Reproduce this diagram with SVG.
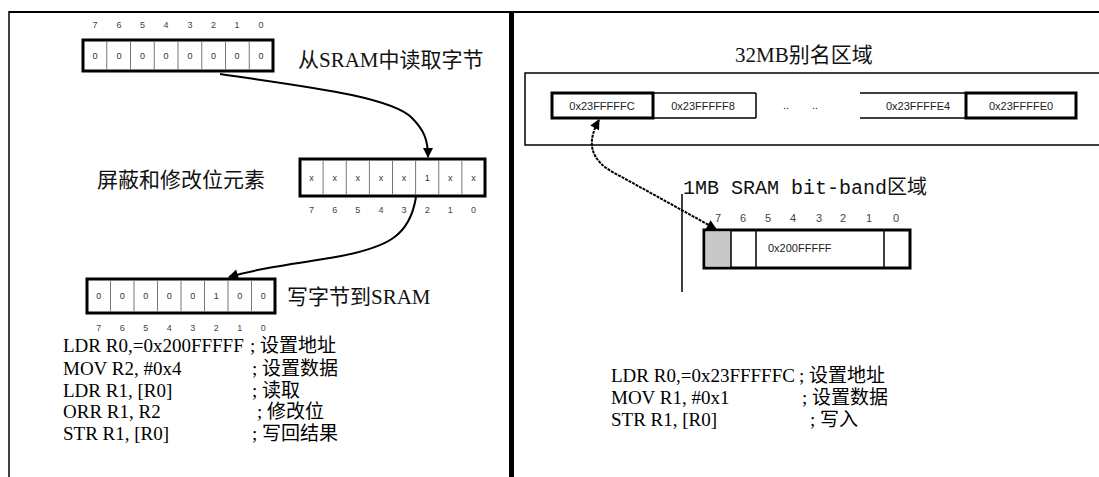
<svg xmlns="http://www.w3.org/2000/svg" width="1099" height="477" viewBox="0 0 1099 477">
<style>
.frame{stroke:#000;fill:none}
.box{fill:#fff;stroke:#000;stroke-width:3}
.div{stroke:#777;stroke-width:1}
.thin{stroke:#000;stroke-width:1.5;fill:none}
.bit{font-family:"Liberation Sans",Arial,sans-serif;font-size:9px;fill:#444;text-anchor:middle}
.val{font-family:"Liberation Sans",Arial,sans-serif;font-size:9px;fill:#333;text-anchor:middle}
.addr{font-family:"Liberation Sans",Arial,sans-serif;font-size:11px;fill:#222;text-anchor:middle}
.lbl{font-family:"Liberation Serif","Noto Sans CJK SC",serif;font-size:21px;fill:#111}
.mono{font-family:"Liberation Mono","Noto Sans CJK SC",monospace;font-size:20px;fill:#111}
.code{font-family:"Liberation Serif","Noto Sans CJK SC",serif;font-size:19px;fill:#000}
.conn{stroke:#000;stroke-width:2;fill:none}
</style>
<defs>
<marker id="ah" viewBox="0 0 10 10" refX="9" refY="5" markerWidth="12" markerHeight="10" markerUnits="userSpaceOnUse" orient="auto-start-reverse">
<path d="M0,0 L10,5 L0,10 z" fill="#000"/>
</marker>
</defs>
<rect width="1099" height="477" fill="#fff"/>
<g id="frame">
<line x1="9" y1="12" x2="1099" y2="12" class="frame" stroke-width="2"/>
<line x1="9" y1="11" x2="9" y2="477" class="frame" stroke-width="1.5"/>
<line x1="511.5" y1="11" x2="511.5" y2="477" class="frame" stroke-width="5"/>
</g>
<g id="read-byte">
<rect x="83" y="40" width="190" height="31" class="box"/>
<g class="div"><line x1="106.75" y1="41" x2="106.75" y2="70"/><line x1="130.5" y1="41" x2="130.5" y2="70"/><line x1="154.25" y1="41" x2="154.25" y2="70"/><line x1="178" y1="41" x2="178" y2="70"/><line x1="201.75" y1="41" x2="201.75" y2="70"/><line x1="225.5" y1="41" x2="225.5" y2="70"/><line x1="249.25" y1="41" x2="249.25" y2="70"/></g>
<g class="bit"><text x="95" y="28">7</text><text x="119" y="28">6</text><text x="142.5" y="28">5</text><text x="166" y="28">4</text><text x="190" y="28">3</text><text x="213.5" y="28">2</text><text x="237" y="28">1</text><text x="261" y="28">0</text></g>
<g class="val"><text x="95" y="59">0</text><text x="119" y="59">0</text><text x="142.5" y="59">0</text><text x="166" y="59">0</text><text x="190" y="59">0</text><text x="213.5" y="59">0</text><text x="237" y="59">0</text><text x="261" y="59">0</text></g>
<text x="298" y="67" class="lbl">从SRAM中读取字节</text>
</g>
<g id="mask-modify">
<rect x="300" y="159" width="185" height="37" class="box"/>
<g class="div"><line x1="323.1" y1="160" x2="323.1" y2="195"/><line x1="346.25" y1="160" x2="346.25" y2="195"/><line x1="369.4" y1="160" x2="369.4" y2="195"/><line x1="392.5" y1="160" x2="392.5" y2="195"/><line x1="415.6" y1="160" x2="415.6" y2="195"/><line x1="438.75" y1="160" x2="438.75" y2="195"/><line x1="461.9" y1="160" x2="461.9" y2="195"/></g>
<g class="val"><text x="311.6" y="181">x</text><text x="334.7" y="181">x</text><text x="357.8" y="181">x</text><text x="381" y="181">x</text><text x="404" y="181">x</text><text x="427.2" y="181">1</text><text x="450.3" y="181">x</text><text x="473.4" y="181">x</text></g>
<g class="bit"><text x="311.6" y="213">7</text><text x="334.7" y="213">6</text><text x="357.8" y="213">5</text><text x="381" y="213">4</text><text x="404" y="213">3</text><text x="427.2" y="213">2</text><text x="450.3" y="213">1</text><text x="473.4" y="213">0</text></g>
<text x="97" y="187" class="lbl">屏蔽和修改位元素</text>
</g>
<g id="write-byte">
<rect x="87" y="279" width="188" height="34" class="box"/>
<g class="div"><line x1="110.5" y1="280" x2="110.5" y2="312"/><line x1="134" y1="280" x2="134" y2="312"/><line x1="157.5" y1="280" x2="157.5" y2="312"/><line x1="181" y1="280" x2="181" y2="312"/><line x1="204.5" y1="280" x2="204.5" y2="312"/><line x1="228" y1="280" x2="228" y2="312"/><line x1="251.5" y1="280" x2="251.5" y2="312"/></g>
<g class="val"><text x="98.75" y="299">0</text><text x="122.25" y="299">0</text><text x="145.75" y="299">0</text><text x="169.25" y="299">0</text><text x="192.75" y="299">0</text><text x="216.25" y="299">1</text><text x="239.75" y="299">0</text><text x="263.25" y="299">0</text></g>
<g class="bit"><text x="98.75" y="331">7</text><text x="122.25" y="331">6</text><text x="145.75" y="331">5</text><text x="169.25" y="331">4</text><text x="192.75" y="331">3</text><text x="216.25" y="331">2</text><text x="239.75" y="331">1</text><text x="263.25" y="331">0</text></g>
<text x="287" y="304" class="lbl">写字节到SRAM</text>
</g>
<g id="code-left" class="code">
<text x="63" y="352">LDR R0,=0x200FFFFF</text><text x="250" y="352">; 设置地址</text>
<text x="63" y="375">MOV R2, #0x4</text><text x="252" y="375">; 设置数据</text>
<text x="63" y="397">LDR R1, [R0]</text><text x="252" y="397">; 读取</text>
<text x="63" y="418">ORR R1, R2</text><text x="257" y="418">; 修改位</text>
<text x="63" y="440">STR R1, [R0]</text><text x="252" y="440">; 写回结果</text>
</g>
<g id="alias-region">
<text x="735" y="62" class="lbl">32MB别名区域</text>
<path d="M1099,73 H525 V145 H1099" class="thin"/>
<rect x="552" y="93" width="101" height="25" class="box"/>
<path d="M653,93 H756 M653,118 H756 M756,93 V118" class="thin"/>
<path d="M860,93 H966 M860,118 H966" class="thin"/>
<rect x="966" y="93" width="110" height="25" class="box"/>
<g class="addr"><text x="602" y="110">0x23FFFFFC</text><text x="703" y="110">0x23FFFFF8</text><text x="918" y="110">0x23FFFFE4</text><text x="1021" y="110">0x23FFFFE0</text></g>
<g class="addr"><text x="786" y="109">..</text><text x="815" y="109">..</text></g>
</g>
<g id="bitband-region">
<text x="683" y="194" class="mono">1MB SRAM bit-band区域</text>
<line x1="682" y1="194" x2="682" y2="292" class="thin" stroke-width="1"/>
<g class="bit" style="font-size:11px"><text x="718" y="222">7</text><text x="743" y="222">6</text><text x="768" y="222">5</text><text x="793" y="222">4</text><text x="819" y="222">3</text><text x="843" y="222">2</text><text x="869" y="222">1</text><text x="896" y="222">0</text></g>
<rect x="704" y="230" width="206" height="38" class="box"/>
<rect x="705.5" y="231.5" width="25.5" height="35" fill="#c8c8c8"/>
<path d="M731,231 V267 M756,231 V267 M884,231 V267" stroke="#000" stroke-width="1.5"/>
<text x="768" y="252" class="addr" style="text-anchor:start">0x200FFFFF</text>
</g>
<g id="code-right" class="code">
<text x="611" y="382">LDR R0,=0x23FFFFFC</text><text x="799" y="382">; 设置地址</text>
<text x="611" y="404">MOV R1, #0x1</text><text x="802" y="404">; 设置数据</text>
<text x="611" y="426">STR R1, [R0]</text><text x="810" y="426">; 写入</text>
</g>
<g id="connectors">
<path d="M220,74 C300,86 390,96 412,118 C424,130 428,140 428,157" class="conn" marker-end="url(#ah)"/>
<path d="M416,197 C410,235 390,248 330,258 C285,265 252,270 229,277" class="conn" marker-end="url(#ah)"/>
<path d="M599,120 C588,140 586,160 620,176 L716,229" class="conn" stroke-width="1.5" stroke-dasharray="3,1" marker-start="url(#ah)" marker-end="url(#ah)"/>
</g>
</svg>
